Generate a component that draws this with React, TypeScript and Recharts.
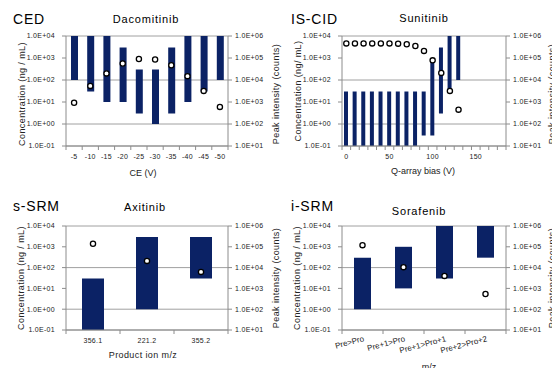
import { ComposedChart, Bar, Line, XAxis, YAxis, CartesianGrid } from "recharts";

const FONT = '"Liberation Sans", Arial, sans-serif';
const NAVY = "#0b2265";
const GRID = "#a0a0a0";
const AXIS = "#8c8c8c";
const INK = "#222";

const concTicks = [0.1, 1, 10, 100, 1000, 10000];
const peakTicks = [10, 100, 1000, 10000, 100000, 1000000];

// CED - Dacomitinib
const cedCats = ["-5", "-10", "-15", "-20", "-25", "-30", "-35", "-40", "-45", "-50"];
const cedLow = [100, 30, 10, 10, 3, 1, 3, 10, 30, 100];
const cedHigh = [10000, 10000, 10000, 3000, 300, 300, 3000, 10000, 10000, 10000];
const cedPeak = [930, 5400, 20000, 56000, 90000, 86000, 47000, 15000, 3200, 600];

// IS-CID - Sunitinib
const cidCats = ["0", "10", "20", "30", "40", "50", "60", "70", "80", "90", "100", "110", "120", "130", "140", "150", "160", "170", "180"];
const cidLow = [0.1, 0.1, 0.1, 0.1, 0.1, 0.1, 0.1, 0.1, 0.1, 0.3, 0.3, 3, 30, 100, null, null, null, null, null];
const cidHigh = [30, 30, 30, 30, 30, 30, 30, 30, 30, 30, 1000, 3000, 10000, 10000, null, null, null, null, null];
const cidPeak = [460000, 460000, 460000, 460000, 460000, 460000, 450000, 420000, 350000, 210000, 78000, 21000, 3200, 450, null, null, null, null, null];

// s-SRM - Axitinib
const ssrmCats = ["356.1", "221.2", "355.2"];
const ssrmLow = [0.1, 1, 30];
const ssrmHigh = [30, 3000, 3000];
const ssrmPeak = [140000, 21000, 6200];

// i-SRM - Sorafenib
const isrmCats = ["Pre>Pro", "Pre+1>Pro", "Pre+1>Pro+1", "Pre+2>Pro+2"];
const isrmLow = [1, 10, 30, 300];
const isrmHigh = [300, 1000, 10000, 10000];
const isrmPeak = [120000, 10500, 4000, 540];

function sci(v: number) {
  const [m, e] = v.toExponential(1).split("e");
  const n = parseInt(e, 10);
  return `${m}E${n < 0 ? "-" : "+"}${String(Math.abs(n)).padStart(2, "0")}`;
}

const AXIS_Y = 146;
const LEFT_W = 66;

function CatTick(props: any) {
  const { x, payload, index, bw, every, rotate, count } = props;
  const show = index % every === 0;
  const ry = AXIS_Y + 11;
  return (
    <g>
      <line x1={x - bw / 2} x2={x - bw / 2} y1={AXIS_Y} y2={AXIS_Y + 4} stroke={AXIS} />
      {index === count - 1 && <line x1={x + bw / 2} x2={x + bw / 2} y1={AXIS_Y} y2={AXIS_Y + 4} stroke={AXIS} />}
      {show && !rotate && (
        <text x={x} y={AXIS_Y + 13} textAnchor="middle" fontSize={7} fill={INK} fontFamily={FONT} letterSpacing={0.3}>
          {payload.value}
        </text>
      )}
      {show && rotate && (
        <text
          x={x + 2}
          y={ry}
          textAnchor="end"
          fontSize={8}
          fill={INK}
          fontFamily={FONT}
          transform={`rotate(-15, ${x + 2}, ${ry})`}
        >
          {payload.value}
        </text>
      )}
    </g>
  );
}

interface PanelProps {
  cats: string[];
  low: (number | null)[];
  high: (number | null)[];
  peak: (number | null)[];
  top: number;
  rightW: number;
  barSize: number;
  every?: number;
  rotate?: boolean;
}

function Panel({ cats, low, high, peak, top, rightW, barSize, every = 1, rotate = false }: PanelProps) {
  const data = cats.map((c, i) => ({
    c,
    range: low[i] != null && high[i] != null ? [low[i], high[i]] : null,
    peak: peak[i] ?? null,
  }));
  const bw = (276 - LEFT_W - rightW) / cats.length;
  const tickStyle = { fontSize: 7, fill: INK, fontFamily: FONT, letterSpacing: 0.3 };

  return (
    <ComposedChart width={276} height={184} data={data} margin={{ top, right: 0, bottom: 0, left: 0 }}>
      <CartesianGrid vertical={false} stroke={GRID} yAxisId="l" />
      <XAxis
        dataKey="c"
        height={38}
        axisLine={{ stroke: AXIS }}
        tickLine={false}
        interval={0}
        tick={(p: any) => <CatTick {...p} bw={bw} every={every} rotate={rotate} count={cats.length} />}
      />
      <YAxis
        yAxisId="l"
        width={LEFT_W}
        scale="log"
        domain={[0.1, 10000]}
        ticks={concTicks}
        allowDataOverflow
        tickFormatter={sci}
        tick={tickStyle}
        axisLine={{ stroke: AXIS }}
        tickLine={{ stroke: AXIS }}
        tickSize={4}
        tickMargin={7}
      />
      <YAxis
        yAxisId="r"
        orientation="right"
        width={rightW}
        scale="log"
        domain={[10, 1000000]}
        ticks={peakTicks}
        allowDataOverflow
        tickFormatter={sci}
        tick={{ ...tickStyle, textAnchor: "start" }}
        axisLine={{ stroke: AXIS }}
        tickLine={{ stroke: AXIS }}
        tickSize={4}
        tickMargin={3}
      />
      <Bar yAxisId="l" dataKey="range" fill={NAVY} barSize={barSize} isAnimationActive={false} />
      <Line
        yAxisId="r"
        dataKey="peak"
        stroke="none"
        isAnimationActive={false}
        dot={(p: any) =>
          p.payload.peak == null || p.cy == null ? (
            <g key={`d${p.index}`} />
          ) : (
            <circle key={`d${p.index}`} cx={p.cx} cy={p.cy} r={2.6} fill="#fff" stroke="#000" strokeWidth={1.3} />
          )
        }
      />
    </ComposedChart>
  );
}

export default function App() {
  const title = { fontFamily: FONT, fill: "#000", letterSpacing: 0.8 };
  const lab = { fontFamily: FONT, fill: INK, fontSize: 9 };
  return (
    <div style={{ position: "absolute", left: 0, top: 0, width: 552, height: 368, background: "#fff", overflow: "hidden" }}>
      <div style={{ position: "absolute", left: 0, top: 0 }}>
        <Panel cats={cedCats} low={cedLow} high={cedHigh} peak={cedPeak} top={36} rightW={48} barSize={7} />
      </div>
      <div style={{ position: "absolute", left: 276, top: 0 }}>
        <Panel cats={cidCats} low={cidLow} high={cidHigh} peak={cidPeak} top={36} rightW={46} barSize={4} every={5} />
      </div>
      <div style={{ position: "absolute", left: 0, top: 184 }}>
        <Panel cats={ssrmCats} low={ssrmLow} high={ssrmHigh} peak={ssrmPeak} top={42} rightW={48} barSize={22} />
      </div>
      <div style={{ position: "absolute", left: 276, top: 184 }}>
        <Panel cats={isrmCats} low={isrmLow} high={isrmHigh} peak={isrmPeak} top={42} rightW={46} barSize={17} rotate />
      </div>
      <svg width={560} height={372} style={{ position: "absolute", left: 0, top: 0, pointerEvents: "none", overflow: "visible" }}>
        <text x={13} y={24} fontSize={14} {...title}>CED</text>
        <text x={146} y={23} fontSize={11} textAnchor="middle" {...title}>Dacomitinib</text>
        <text x={291} y={24} fontSize={14} {...title}>IS-CID</text>
        <text x={424} y={22} fontSize={11} textAnchor="middle" {...title}>Sunitinib</text>
        <text x={13} y={211} fontSize={14} {...title}>s-SRM</text>
        <text x={145} y={211} fontSize={11} textAnchor="middle" {...title}>Axitinib</text>
        <text x={291} y={211} fontSize={14} {...title}>i-SRM</text>
        <text x={419} y={215} fontSize={11} textAnchor="middle" {...title}>Sorafenib</text>

        <text x={143} y={176} textAnchor="middle" {...lab}>CE (V)</text>
        <text x={423} y={174} textAnchor="middle" {...lab}>Q-array bias (V)</text>
        <text x={143} y={358} textAnchor="middle" {...lab} letterSpacing={0.4}>Product ion m/z</text>
        <text x={429} y={370} textAnchor="middle" {...lab}>m/z</text>

        <text x={25} y={94} textAnchor="middle" transform="rotate(-90, 25, 94)" {...lab} letterSpacing={0.4}>Concentration (ng / mL)</text>
        <text x={301} y={91} textAnchor="middle" transform="rotate(-90, 301, 91)" {...lab} letterSpacing={0.4}>Concentration (ng/ mL)</text>
        <text x={24} y={278} textAnchor="middle" transform="rotate(-90, 24, 278)" {...lab} letterSpacing={0.4}>Concentration (ng / mL)</text>
        <text x={300} y={278} textAnchor="middle" transform="rotate(-90, 300, 278)" {...lab} letterSpacing={0.4}>Concentration (ng / mL)</text>

        <text x={279} y={94} textAnchor="middle" transform="rotate(-90, 279, 94)" {...lab} letterSpacing={0.4}>Peak intensity (counts)</text>
        <text x={555} y={94} textAnchor="middle" transform="rotate(-90, 555, 94)" {...lab} letterSpacing={0.4}>Peak intensity (counts)</text>
        <text x={279} y={278} textAnchor="middle" transform="rotate(-90, 279, 278)" {...lab} letterSpacing={0.4}>Peak intensity (counts)</text>
        <text x={555} y={278} textAnchor="middle" transform="rotate(-90, 555, 278)" {...lab} letterSpacing={0.4}>Peak intensity (counts)</text>
      </svg>
    </div>
  );
}
